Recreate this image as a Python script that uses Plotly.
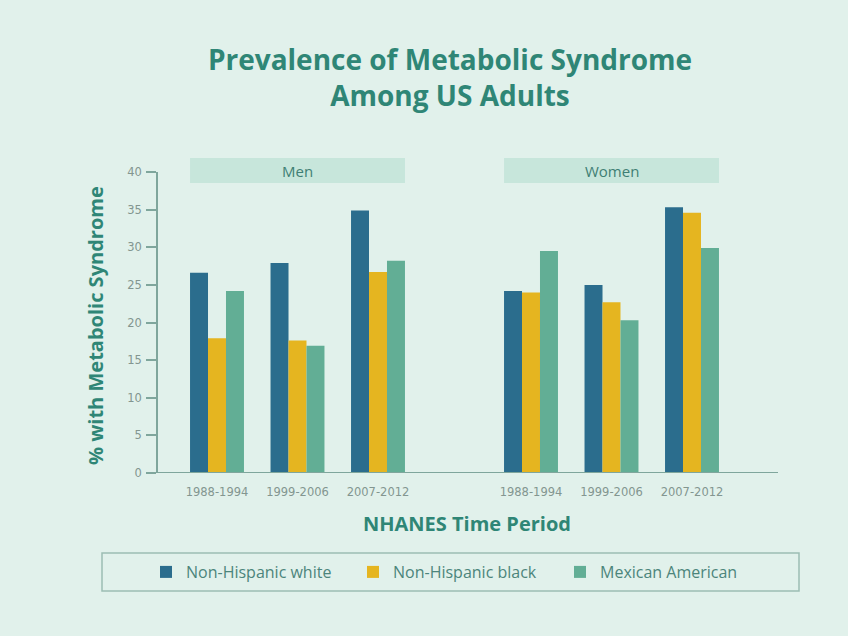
import plotly.graph_objects as go

periods = ["1988-1994", "1999-2006", "2007-2012"]
panels = ["Men", "Women"]
series_names = ["Non-Hispanic white", "Non-Hispanic black", "Mexican American"]
men_white = [26.6, 27.9, 34.9]
men_black = [17.9, 17.6, 26.7]
men_mex = [24.2, 16.9, 28.2]
women_white = [24.2, 25.0, 35.3]
women_black = [24.0, 22.7, 34.6]
women_mex = [29.5, 20.3, 29.9]
y_ticks = [0, 5, 10, 15, 20, 25, 30, 35, 40]

colors = ["#2b6d8d", "#e5b520", "#62ae95"]
bg = "#e1f1eb"
teal = "#2f8676"
axis_col = "#7fa69c"
tick_col = "#839690"
FONT = "Open Sans"
TICKFONT = "DejaVu Sans"

fig = go.Figure()
men = [men_white, men_black, men_mex]
women = [women_white, women_black, women_mex]
for i, name in enumerate(series_names):
    fig.add_trace(go.Bar(x=periods, y=men[i], name=name, marker_color=colors[i],
                         marker_line_width=0, xaxis="x", yaxis="y", legendgroup=name,
                         showlegend=True))
for i, name in enumerate(series_names):
    fig.add_trace(go.Bar(x=periods, y=women[i], name=name, marker_color=colors[i],
                         marker_line_width=0, xaxis="x2", yaxis="y", legendgroup=name,
                         showlegend=False))

L, R, T, B = 157, 778, 172, 473
W = R - L
H = B - T
def px(v):
    return (v - L) / W
def py(v):
    return (B - v) / H

bargap = 0.33
xcommon = dict(type="category", showline=False, ticks="", showgrid=False, zeroline=False,
               ticklabelstandoff=10,
               tickfont=dict(family=TICKFONT, size=11.5, color=tick_col), anchor="y")
fig.update_layout(
    width=848, height=636,
    paper_bgcolor=bg, plot_bgcolor=bg,
    margin=dict(l=L, r=848 - R, t=T, b=636 - B),
    barmode="group", bargap=bargap, bargroupgap=0,
    xaxis=dict(domain=[px(176.75), px(418.25)], **xcommon),
    xaxis2=dict(domain=[px(490.75), px(732.25)], **xcommon),
    yaxis=dict(range=[0, 40], tickvals=y_ticks, showgrid=False, zeroline=False,
               showline=True, linecolor=axis_col, linewidth=1.5,
               ticks="outside", ticklen=10, tickcolor=axis_col, tickwidth=1.5,
               anchor="free", position=0, ticklabelstandoff=2,
               tickfont=dict(family=TICKFONT, size=11.5, color=tick_col)),
    title=dict(text="Prevalence of Metabolic Syndrome<br>Among US Adults",
               x=450 / 848, xanchor="center", y=1 - 69.5 / 636, yanchor="middle",
               yref="container", xref="container",
               font=dict(family=FONT, size=28, color=teal, weight="bold")),
    legend=dict(orientation="h", x=px(146), xanchor="left", y=py(572), yanchor="middle",
                bgcolor="rgba(0,0,0,0)", font=dict(family=FONT, size=16, color="#4c857b"),
                entrywidth=162, entrywidthmode="pixels", itemclick=False),
    showlegend=True,
)

# baseline across both panels
fig.add_shape(type="line", xref="paper", yref="y", x0=px(150), x1=1, y0=0, y1=0,
              line=dict(color=axis_col, width=2), layer="above")

# facet strips
for ax, lbl in zip(["x", "x2"], panels):
    fig.add_shape(type="rect", xref=ax, yref="paper", x0=-0.5 + bargap / 2,
                  x1=len(periods) - 0.5 - bargap / 2, y0=py(183), y1=py(158),
                  fillcolor="#c7e6db", line_width=0, layer="above")
    fig.add_annotation(x=1, xref=ax, y=py(170.5), yref="paper", text=lbl, showarrow=False,
                       font=dict(family=FONT, size=15, color="#3f7f74"),
                       xanchor="center", yanchor="middle")

# legend box
fig.add_shape(type="rect", xref="paper", yref="paper", x0=px(102), x1=px(799),
              y0=py(591), y1=py(553), line=dict(color="#9cbdb4", width=1.5),
              fillcolor="rgba(0,0,0,0)")

# axis titles
fig.add_annotation(x=px(467), y=py(523), xref="paper", yref="paper",
                   text="NHANES Time Period", showarrow=False,
                   font=dict(family=FONT, size=20, color=teal, weight="bold"),
                   xanchor="center", yanchor="middle")
fig.add_annotation(x=px(95), y=py(326), xref="paper", yref="paper",
                   text="% with Metabolic Syndrome", showarrow=False, textangle=-90,
                   font=dict(family=FONT, size=20, color=teal, weight="bold"),
                   xanchor="center", yanchor="middle")

fig.write_html("out.html", config={"displayModeBar": False},
               post_script="document.body.style.margin='0';")
